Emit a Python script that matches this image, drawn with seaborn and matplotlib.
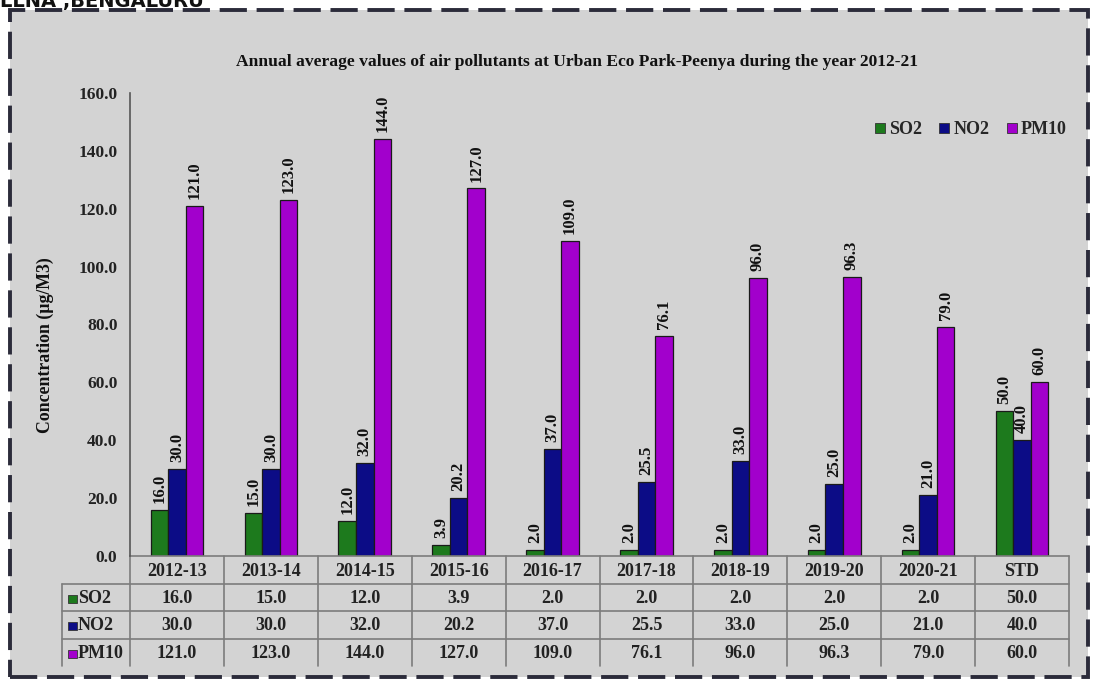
import numpy as np
import pandas as pd
import matplotlib
matplotlib.use("Agg")
import matplotlib.pyplot as plt
import seaborn as sns
from matplotlib.patches import Rectangle
from matplotlib.lines import Line2D

# ---- data -------------------------------------------------------------
periods = ["2012-13", "2013-14", "2014-15", "2015-16", "2016-17",
           "2017-18", "2018-19", "2019-20", "2020-21", "STD"]
so2 = [16.0, 15.0, 12.0, 3.9, 2.0, 2.0, 2.0, 2.0, 2.0, 50.0]
no2 = [30.0, 30.0, 32.0, 20.2, 37.0, 25.5, 33.0, 25.0, 21.0, 40.0]
pm10 = [121.0, 123.0, 144.0, 127.0, 109.0, 76.1, 96.0, 96.3, 79.0, 60.0]
pollutants = ["SO2", "NO2", "PM10"]
y_ticks = [0, 20, 40, 60, 80, 100, 120, 140, 160]

title = ("Annual average values of air pollutants at Urban Eco Park-Peenya "
         "during the year 2012-21")
y_label = "Concentration (µg/M3)"
header_text = "LLNA ,BENGALURU"

colors = ["#1d7a1d", "#0c0c86", "#a200cc"]
series = {"SO2": so2, "NO2": no2, "PM10": pm10}

df = pd.DataFrame({
    "Period": periods * len(pollutants),
    "Pollutant": np.repeat(pollutants, len(periods)),
    "Value": so2 + no2 + pm10,
})

# ---- style ------------------------------------------------------------
sns.set_style("white")
plt.rcParams["font.family"] = ["Liberation Serif", "DejaVu Serif"]
plt.rcParams["font.weight"] = "bold"
FS = 12.5

W, H = 1094, 684
fig = plt.figure(figsize=(W / 100, H / 100), dpi=100)
fig.patch.set_facecolor("white")


def fx(px):
    return px / W


def fy(py):
    return 1 - py / H


# grey chart panel with dashed frame
panel = Rectangle((fx(10), fy(677)), fx(1088) - fx(10), fy(10) - fy(677),
                  transform=fig.transFigure, facecolor="#d3d3d3",
                  edgecolor="#2b2b3a", linewidth=2.8,
                  linestyle=(0, (7, 2.5)), zorder=-5)
fig.patches.append(panel)

fig.text(fx(0), fy(7), header_text, ha="left", va="baseline",
         fontsize=14, fontweight="bold", family="DejaVu Sans", color="#111111")

# ---- bars -------------------------------------------------------------
ax_left, ax_right, ax_top, ax_bottom = 130, 1069, 93, 556
ax = fig.add_axes([fx(ax_left), fy(ax_bottom),
                   (ax_right - ax_left) / W, (ax_bottom - ax_top) / H])
ax.set_facecolor("none")
ax.set_zorder(2)

sns.barplot(data=df, x="Period", y="Value", hue="Pollutant",
            order=periods, hue_order=pollutants, palette=colors,
            saturation=1, width=0.56, gap=0, edgecolor="#1a1a1a",
            linewidth=0.9, legend=False, ax=ax)

for cont in ax.containers:
    ax.bar_label(cont, fmt="%.1f", rotation=90, padding=5,
                 fontsize=FS - 0.5, fontweight="bold", color="#111111")

ax.set_xlim(-0.5, len(periods) - 0.5)
ax.set_ylim(0, 160)
ax.set_yticks(y_ticks)
ax.set_yticklabels([f"{v:.1f}" for v in y_ticks], fontsize=FS,
                   fontweight="bold", color="#222222")
ax.tick_params(axis="y", length=0, pad=9)
ax.tick_params(axis="x", length=0, labelbottom=False)
ax.set_xlabel("")
ax.set_ylabel("")
for side in ["top", "right", "bottom"]:
    ax.spines[side].set_visible(False)
ax.spines["left"].set_color("#555555")
ax.spines["left"].set_linewidth(1.2)

# ---- legend -----------------------------------------------------------
handles = [Line2D([], [], marker="s", linestyle="none", markersize=7,
                  markerfacecolor=c, markeredgecolor="#333333",
                  markeredgewidth=0.6) for c in colors]
fig.legend(handles, pollutants, ncol=3, loc="center right",
           bbox_to_anchor=(fx(1083), fy(130)), frameon=False,
           handletextpad=0.05, columnspacing=0.8, handlelength=0.9,
           prop={"size": FS + 0.5, "weight": "bold"})

# ---- titles -----------------------------------------------------------
fig.text(fx(577), fy(62), title, ha="center", va="center",
         fontsize=12.6, fontweight="bold", color="#111111")
fig.text(fx(45), fy(345), y_label, ha="center", va="center", rotation=90,
         fontsize=12.8, fontweight="bold", color="#111111")

# ---- data table under the axis ---------------------------------------
tr = ax.get_xaxis_transform()
unit = (ax_right - ax_left) / len(periods)


def ay(py):
    return (ax_bottom - py) / (ax_bottom - ax_top)


label_left = -0.5 - (130 - 62) / unit
row_edges = [556, 584, 611, 639, 666]
line_kw = dict(color="#7c7c7c", linewidth=1.2, clip_on=False, transform=tr)

ax.plot([-0.5, len(periods) - 0.5], [ay(row_edges[0])] * 2, **line_kw)
for e in row_edges[1:4]:
    ax.plot([label_left, len(periods) - 0.5], [ay(e)] * 2, **line_kw)
for k in range(len(periods) + 1):
    ax.plot([k - 0.5] * 2, [ay(row_edges[0]), ay(row_edges[-1])], **line_kw)
ax.plot([label_left] * 2, [ay(row_edges[1]), ay(row_edges[-1])], **line_kw)

for i, p in enumerate(periods):
    ax.text(i, ay((row_edges[0] + row_edges[1]) / 2 + 1), p, transform=tr,
            ha="center", va="center", fontsize=FS + 0.5,
            fontweight="bold", color="#222222")

for r, (name, c) in enumerate(zip(pollutants, colors)):
    yc = (row_edges[r + 1] + row_edges[r + 2]) / 2 + 1
    for i, v in enumerate(series[name]):
        ax.text(i, ay(yc), f"{v:.1f}", transform=tr, ha="center",
                va="center", fontsize=FS + 0.5, fontweight="bold",
                color="#222222")
    sq = Rectangle((label_left + 6 / unit, ay(yc + 4)), 9 / unit,
                   ay(yc - 4) - ay(yc + 4), transform=tr, clip_on=False,
                   facecolor=c, edgecolor="#333333", linewidth=0.6)
    ax.add_patch(sq)
    ax.text(label_left + 16 / unit, ay(yc), name, transform=tr,
            ha="left", va="center", fontsize=FS + 0.5, fontweight="bold",
            color="#222222")

fig.savefig("out.png", dpi=100, facecolor=fig.get_facecolor())
